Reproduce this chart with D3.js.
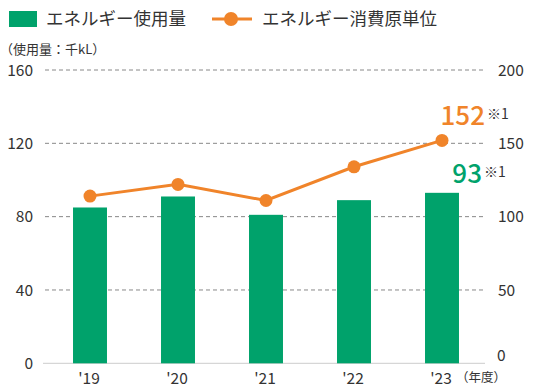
<!DOCTYPE html>
<html>
<head>
<meta charset="utf-8">
<script src="https://cdn.jsdelivr.net/npm/d3@7"></script>
<style>
body { margin: 0; background: #fff; }
text { font-family: "Noto Sans CJK JP", "Noto Sans", sans-serif; fill: #333; }
</style>
</head>
<body>
<svg width="535" height="391"></svg>
<script>
var years = ["'19", "'20", "'21", "'22", "'23"];
var usage = [85, 91, 81, 89, 93];          // 千kL
var intensity = [114, 122, 111, 134, 152];  // 原単位
var leftTicks = [0, 40, 80, 120, 160];
var rightTicks = [0, 50, 100, 150, 200];

var green = "#00a26b", orange = "#f0842a";

var svg = d3.select("svg");

var x = d3.scaleBand().domain(years).range([46, 486])
  .paddingInner(0.614).paddingOuter(0.307);
var yL = d3.scaleLinear().domain([0, 160]).range([363.3, 70]);
var yR = d3.scaleLinear().domain([0, 200]).range([363.3, 70]);

// gridlines
svg.selectAll(".grid")
  .data(leftTicks.filter(function (d) { return d > 0; }))
  .enter().append("line")
  .attr("x1", 45).attr("x2", 485)
  .attr("y1", function (d) { return yL(d); })
  .attr("y2", function (d) { return yL(d); })
  .attr("stroke", "#888").attr("stroke-width", 1)
  .attr("stroke-dasharray", "4,3");

svg.append("line")
  .attr("x1", 43).attr("x2", 485)
  .attr("y1", yL(0)).attr("y2", yL(0))
  .attr("stroke", "#ccc").attr("stroke-width", 1);

// left axis labels
svg.selectAll(".lt").data(leftTicks).enter().append("text")
  .attr("x", 33).attr("y", function (d) { return yL(d); })
  .attr("dy", "0.36em").attr("text-anchor", "end")
  .style("font-size", "15.5px")
  .text(function (d) { return d; });

// right axis labels (the 0 sits a little high, clear of 年度)
svg.selectAll(".rt").data(rightTicks).enter().append("text")
  .attr("x", function (d) { return d === 0 ? 497 : 498; })
  .attr("y", function (d) { return d === 0 ? yR(d) - 8 : yR(d); })
  .attr("dy", "0.36em")
  .style("font-size", "15.5px")
  .text(function (d) { return d; });

// bars
svg.selectAll(".bar").data(usage).enter().append("rect")
  .attr("x", function (d, i) { return x(years[i]); })
  .attr("y", function (d) { return yL(d); })
  .attr("width", x.bandwidth())
  .attr("height", function (d) { return yL(0) - yL(d); })
  .attr("fill", green);

// line
var cx = function (i) { return x(years[i]) + x.bandwidth() / 2; };
var line = d3.line()
  .x(function (d, i) { return cx(i); })
  .y(function (d) { return yR(d); });

svg.append("path").datum(intensity)
  .attr("d", line)
  .attr("fill", "none").attr("stroke", orange).attr("stroke-width", 3);

svg.selectAll(".pt").data(intensity).enter().append("circle")
  .attr("cx", function (d, i) { return cx(i); })
  .attr("cy", function (d) { return yR(d); })
  .attr("r", 6.5).attr("fill", orange);

// x labels
svg.selectAll(".xl").data(years).enter().append("text")
  .attr("x", function (d, i) { return cx(i) - 1; })
  .attr("y", 384)
  .attr("text-anchor", "middle")
  .style("font-size", "15.5px")
  .text(function (d) { return d; });

svg.append("text").attr("x", 456).attr("y", 382)
  .style("font-size", "12.5px").text("（年度）");

svg.append("text").attr("x", 0).attr("y", 54)
  .style("font-size", "13px").text("（使用量：千kL）");

// value callouts
var last = years.length - 1;
svg.append("text")
  .attr("x", cx(last) + 43).attr("y", yR(intensity[last]) - 15)
  .attr("text-anchor", "end")
  .style("font-size", "26px").style("font-weight", "500")
  .style("fill", orange)
  .text(intensity[last]);
svg.append("text")
  .attr("x", cx(last) + 45).attr("y", yR(intensity[last]) - 21)
  .style("font-size", "14px").text("※1");

svg.append("text")
  .attr("x", cx(last) + 40).attr("y", yL(usage[last]) - 10)
  .attr("text-anchor", "end")
  .style("font-size", "26px").style("font-weight", "500")
  .style("fill", green)
  .text(usage[last]);
svg.append("text")
  .attr("x", cx(last) + 42).attr("y", yL(usage[last]) - 16)
  .style("font-size", "14px").text("※1");

// legend
var lg = svg.append("g");
lg.append("rect").attr("x", 9).attr("y", 11).attr("width", 28).attr("height", 16)
  .attr("fill", green);
lg.append("text").attr("x", 46).attr("y", 19).attr("dy", "0.36em")
  .style("font-size", "17.5px").text("エネルギー使用量");
lg.append("line").attr("x1", 212).attr("x2", 252).attr("y1", 19).attr("y2", 19)
  .attr("stroke", orange).attr("stroke-width", 3);
lg.append("circle").attr("cx", 231).attr("cy", 19).attr("r", 7).attr("fill", orange);
lg.append("text").attr("x", 262).attr("y", 19).attr("dy", "0.36em")
  .style("font-size", "17.5px").text("エネルギー消費原単位");
</script>
</body>
</html>
